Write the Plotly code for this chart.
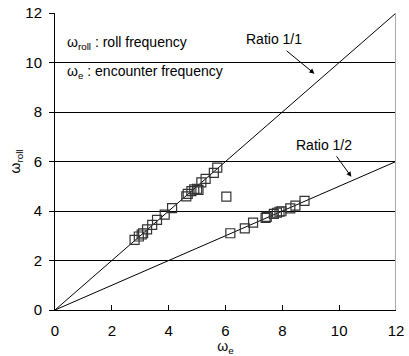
import plotly.graph_objects as go

# Measured data: roll frequency vs encounter frequency
we_11 = [2.80, 2.95, 3.05, 3.10, 3.24, 3.42, 3.59, 3.86, 4.12, 4.62, 4.67, 4.80, 4.90, 5.00, 5.05, 5.15, 5.30, 5.59, 5.71]
wr_11 = [2.83, 2.97, 3.05, 3.10, 3.26, 3.44, 3.64, 3.85, 4.12, 4.59, 4.69, 4.80, 4.87, 4.90, 4.85, 5.16, 5.30, 5.54, 5.75]
we_out = [6.03]
wr_out = [4.58]
we_12 = [6.17, 6.68, 6.97, 7.41, 7.45, 7.70, 7.81, 7.90, 7.97, 8.28, 8.46, 8.78]
wr_12 = [3.10, 3.30, 3.53, 3.72, 3.76, 3.88, 3.93, 3.97, 3.99, 4.11, 4.22, 4.41]

line_x = [0, 12]
ratio_11 = [0, 12]
ratio_12 = [0, 6]

xticks = [0, 2, 4, 6, 8, 10, 12]
yticks = [0, 2, 4, 6, 8, 10, 12]

FONT = "Liberation Sans, Arial, sans-serif"

fig = go.Figure()
fig.add_trace(go.Scatter(x=line_x, y=ratio_11, mode="lines", line=dict(color="black", width=1), showlegend=False))
fig.add_trace(go.Scatter(x=line_x, y=ratio_12, mode="lines", line=dict(color="black", width=1), showlegend=False))
marker = dict(symbol="square-open", size=9, color="#333333", line=dict(width=1.2))
fig.add_trace(go.Scatter(x=we_11 + we_out + we_12, y=wr_11 + wr_out + wr_12, mode="markers",
                         marker=marker, showlegend=False, cliponaxis=False))

fig.update_layout(
    width=409, height=356,
    margin=dict(l=55, r=13, t=13, b=46, autoexpand=False),
    paper_bgcolor="white", plot_bgcolor="white",
    font=dict(family=FONT, size=15, color="black"),
    xaxis=dict(range=[0, 12], tickvals=xticks, ticks="inside", ticklen=5, tickcolor="black",
               showline=True, linecolor="black", linewidth=1, showgrid=False, zeroline=False,
               ticklabelstandoff=7, automargin=False,
               title=dict(text="ω<sub>e</sub>", standoff=0, font=dict(size=14))),
    yaxis=dict(range=[0, 12], tickvals=yticks, ticks="outside", ticklen=5, tickcolor="black",
               showline=True, linecolor="black", linewidth=1, showgrid=True, gridcolor="black",
               gridwidth=1, zeroline=False, ticklabelstandoff=4, automargin=False,
               title=dict(text="ω<sub>roll</sub>", standoff=1, font=dict(size=14))),
)

fig.add_shape(type="line", xref="x", yref="y", x0=12, x1=12, y0=0, y1=12,
              line=dict(color="#aaaaaa", width=2))

fig.add_annotation(x=0.03, xref="paper", y=10.78, yref="y", text="ω<sub>roll</sub> : roll frequency",
                   showarrow=False, xanchor="left", font=dict(size=14))
fig.add_annotation(x=0.03, xref="paper", y=9.6, yref="y", text="ω<sub>e</sub> : encounter frequency",
                   showarrow=False, xanchor="left", font=dict(size=14))
fig.add_annotation(x=7.72, y=10.96, text="Ratio 1/1", showarrow=False, font=dict(size=14))
fig.add_annotation(x=9.48, y=6.67, text="Ratio 1/2", showarrow=False, font=dict(size=14))

fig.add_annotation(x=9.13, y=9.55, ax=8.1, ay=10.52, axref="x", ayref="y", text="",
                   showarrow=True, arrowhead=2, arrowsize=1, arrowwidth=1, arrowcolor="black")
fig.add_annotation(x=10.43, y=5.38, ax=9.87, ay=6.27, axref="x", ayref="y", text="",
                   showarrow=True, arrowhead=2, arrowsize=1, arrowwidth=1, arrowcolor="black")

fig.write_html("out.html")
